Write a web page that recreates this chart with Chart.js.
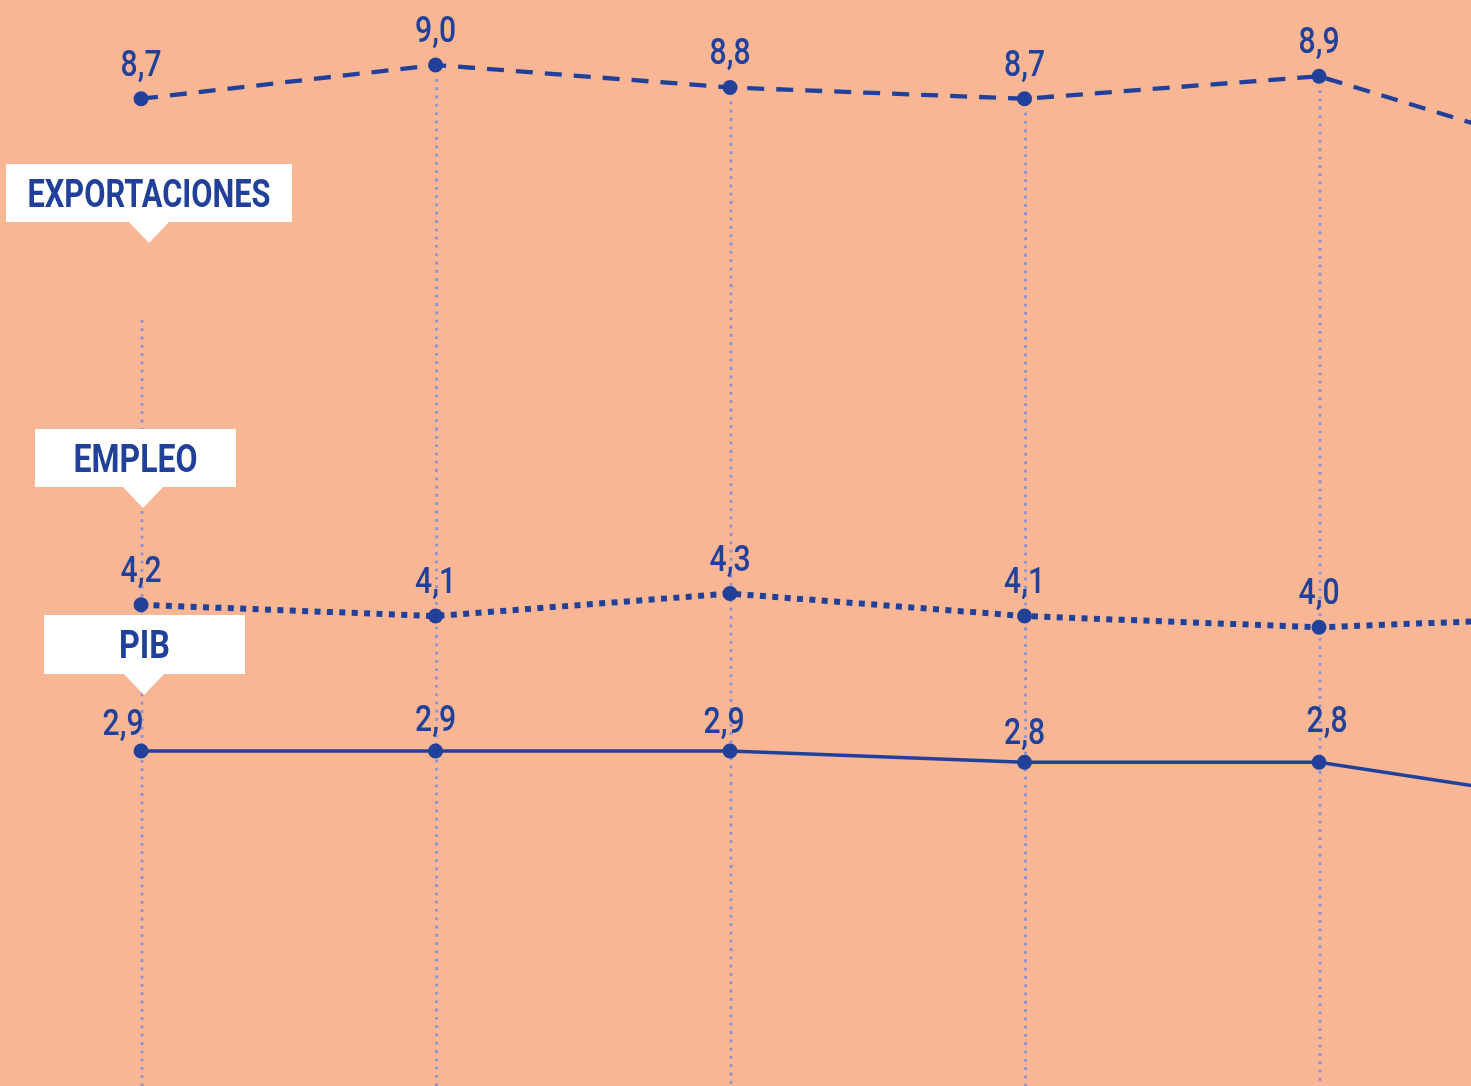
<!DOCTYPE html>
<html lang="es">
<head>
<meta charset="utf-8">
<title>Exportaciones, empleo y PIB</title>
<script src="https://cdn.jsdelivr.net/npm/chart.js@4.4.1/dist/chart.umd.min.js"></script>
<style>
    html, body { margin: 0; padding: 0; background: #f9b695; overflow: hidden; }
    canvas { display: block; }
</style>
</head>
<body>
<canvas id="grafico" width="1471" height="1086"></canvas>
<script>
// Datos (la sexta posición queda fuera del recorte, por la derecha)
const periodos = [0, 1, 2, 3, 4, 5];
const exportaciones = [8.7, 9.0, 8.8, 8.7, 8.9, 8.1];
const empleo = [4.2, 4.1, 4.3, 4.1, 4.0, 4.1];
const pib = [2.9, 2.9, 2.9, 2.8, 2.8, 2.4];
const nombresSeries = ['EXPORTACIONES', 'EMPLEO', 'PIB'];

const AZUL = '#21409a';
const LILA = '#8a90d4';
const FUENTE = 'Roboto, "Liberation Sans", sans-serif';

// Formato español: coma decimal
function formato(v) {
    return v.toFixed(1).replace('.', ',');
}

function puntos(valores) {
    return periodos.map((p, i) => ({ x: p, y: valores[i] }));
}

// Líneas verticales punteadas bajo cada punto de la serie superior
const guias = {
    id: 'guias',
    beforeDatasetsDraw(chart) {
        const ctx = chart.ctx;
        const meta = chart.getDatasetMeta(0);
        ctx.save();
        ctx.strokeStyle = LILA;
        ctx.lineWidth = 2.8;
        ctx.setLineDash([2.8, 5.5]);
        meta.data.forEach((pt, j) => {
            const x = pt.x + 1;
            const y0 = j === 0 ? 320 : pt.y + 14;
            ctx.beginPath();
            ctx.moveTo(x, y0);
            ctx.lineTo(x, chart.chartArea.bottom);
            ctx.stroke();
        });
        ctx.restore();
    }
};

// Valores encima de cada punto
const etiquetasValores = {
    id: 'etiquetasValores',
    afterDatasetsDraw(chart, args, opts) {
        const ctx = chart.ctx;
        ctx.save();
        ctx.fillStyle = AZUL;
        ctx.font = '500 36px ' + FUENTE;
        ctx.textAlign = 'center';
        ctx.textBaseline = 'alphabetic';
        chart.data.datasets.forEach((ds, i) => {
            const meta = chart.getDatasetMeta(i);
            const ajustes = opts.ajustes[i] || [];
            meta.data.forEach((pt, j) => {
                const a = ajustes[j] || [0, -23];
                ctx.fillText(formato(ds.data[j].y), pt.x + a[0], pt.y + a[1], 41);
            });
        });
        ctx.restore();
    }
};

// Rótulos blancos con flecha que nombran cada serie
const rotulos = {
    id: 'rotulos',
    afterDraw(chart, args, opts) {
        const ctx = chart.ctx;
        ctx.save();
        opts.cajas.forEach((c, i) => {
            ctx.fillStyle = '#ffffff';
            ctx.fillRect(c.x, c.y, c.w, c.h);
            ctx.beginPath();
            ctx.moveTo(c.punta - 21, c.y + c.h - 1);
            ctx.lineTo(c.punta + 21, c.y + c.h - 1);
            ctx.lineTo(c.punta, c.y + c.h + 21);
            ctx.closePath();
            ctx.fill();

            ctx.fillStyle = AZUL;
            ctx.font = 'bold 38px ' + FUENTE;
            ctx.textAlign = 'center';
            ctx.textBaseline = 'alphabetic';
            ctx.fillText(nombresSeries[i], c.x + c.w / 2, c.y + 43, c.ancho);
        });
        ctx.restore();
    }
};

const ctx = document.getElementById('grafico').getContext('2d');

new Chart(ctx, {
    type: 'line',
    data: {
        datasets: [
            {
                label: nombresSeries[0],
                data: puntos(exportaciones),
                borderColor: AZUL,
                backgroundColor: AZUL,
                borderWidth: 4.3,
                borderDash: [17, 12],
                pointRadius: 7.5,
                pointBorderWidth: 0,
                tension: 0
            },
            {
                label: nombresSeries[1],
                data: puntos(empleo),
                borderColor: AZUL,
                backgroundColor: AZUL,
                borderWidth: 6,
                borderDash: [6, 6.4],
                pointRadius: 7.5,
                pointBorderWidth: 0,
                tension: 0
            },
            {
                label: nombresSeries[2],
                data: puntos(pib),
                borderColor: AZUL,
                backgroundColor: AZUL,
                borderWidth: 3.5,
                pointRadius: 7.5,
                pointBorderWidth: 0,
                tension: 0
            }
        ]
    },
    options: {
        responsive: false,
        animation: false,
        events: [],
        layout: { padding: 0, autoPadding: false },
        scales: {
            x: { type: 'linear', display: false, min: -0.479, max: 4.516 },
            y: { type: 'linear', display: false, min: -0.079, max: 9.578 }
        },
        plugins: {
            legend: { display: false },
            tooltip: { enabled: false },
            etiquetasValores: {
                ajustes: [
                    [],
                    [],
                    [[-18, -16], [0, -20], [-6, -18], [0, -18], [8, -30]]
                ]
            },
            rotulos: {
                cajas: [
                    { x: 6, y: 164, w: 286, h: 58, punta: 149, ancho: 243 },
                    { x: 35, y: 429, w: 201, h: 58, punta: 143, ancho: 124 },
                    { x: 44, y: 615, w: 201, h: 59, punta: 144, ancho: 51 }
                ]
            }
        }
    },
    plugins: [guias, etiquetasValores, rotulos]
});
</script>
</body>
</html>
